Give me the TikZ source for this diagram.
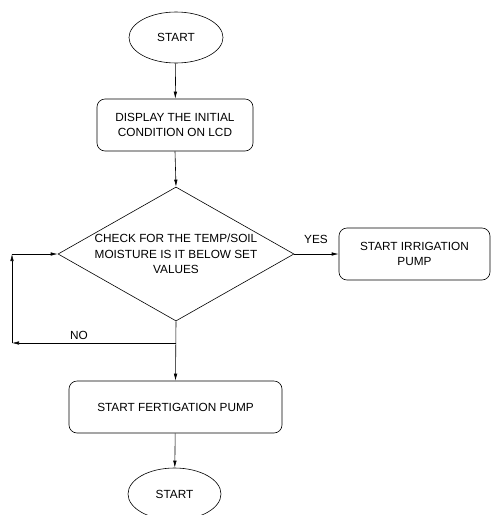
\documentclass[tikz,border=0pt]{standalone}
\usepackage{fontspec}
\setmainfont{Liberation Sans}
\usetikzlibrary{shapes.geometric,arrows.meta}
\begin{document}
\begin{tikzpicture}[x=1pt,y=-1pt,
  every node/.style={font=\fontsize{11.8}{15.5}\selectfont},
  term/.style={draw,ellipse,minimum width=94pt,minimum height=51pt,inner sep=0pt,line width=0.6pt},
  proc/.style={draw,rounded corners=8pt,inner sep=0pt,align=center,line width=0.6pt},
  deci/.style={draw,diamond,aspect=1.76,minimum width=236pt,minimum height=134pt,inner sep=0pt,align=center,line width=0.6pt},
  conn/.style={line width=0.6pt,-{Latex[length=7pt,width=3.5pt]}},
  lbl/.style={inner sep=0pt}]
\useasboundingbox (0,0) rectangle (491,515);
\node[term] (start) at (176,37.5) {START};
\node[proc,minimum width=156pt,minimum height=52pt] (disp) at (175,125) {DISPLAY THE INITIAL\\CONDITION ON LCD};
\node[deci] (dec) at (176,254) {CHECK FOR THE TEMP/SOIL\\MOISTURE IS IT BELOW SET\\VALUES};
\node[proc,minimum width=151pt,minimum height=52pt] (irr) at (414.5,254) {START IRRIGATION\\PUMP};
\node[proc,minimum width=213pt,minimum height=52pt] (fert) at (175.5,407) {START FERTIGATION PUMP};
\node[term,minimum width=93pt,minimum height=52pt] (end) at (174.5,494) {START};
\coordinate (j) at (176,343);
\coordinate (l1) at (12,343);
\coordinate (l2) at (12,254);
\draw[conn] (start) -- (disp);
\draw[conn] (disp.south) -- (dec.north);
\draw[conn] (dec.east) -- (irr.west);
\draw[conn] (dec.south) -- (fert.north);
\draw[conn] (fert) -- (end);
\draw[conn] (j) -- (l1);
\draw[conn] (l1) -- (l2);
\draw[conn] (l2) -- (dec.west);
\node[lbl] (yes) at (316,239) {YES};
\node[lbl] (no) at (79,335) {NO};
\end{tikzpicture}
\end{document}
